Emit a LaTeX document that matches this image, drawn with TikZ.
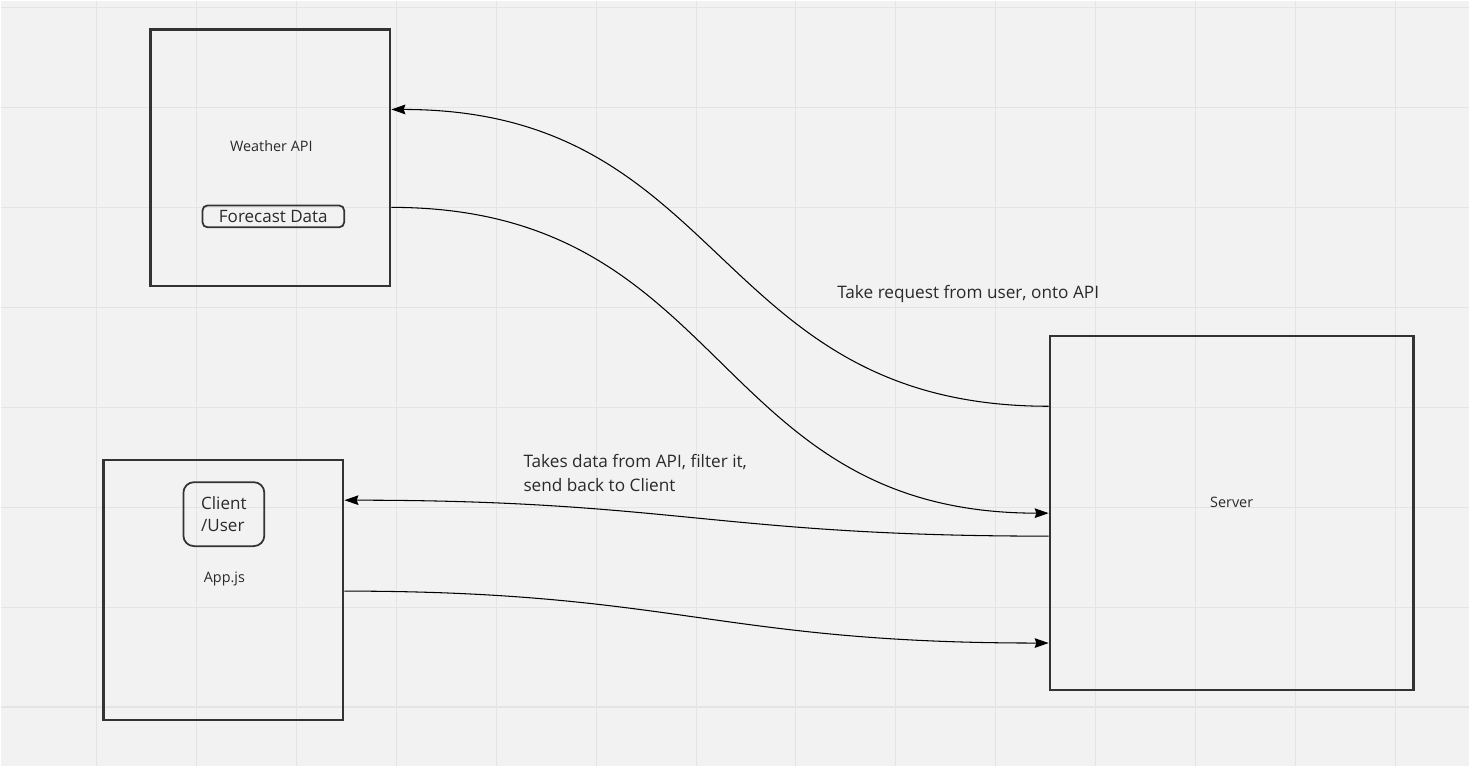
\documentclass[tikz,border=0pt]{standalone}
\usepackage{fontspec}
\setmainfont{Open Sans}
\usetikzlibrary{arrows.meta}
\definecolor{paper}{HTML}{F2F2F2}
\definecolor{gridline}{HTML}{E4E4E4}
\definecolor{ink}{HTML}{333333}
\definecolor{txt}{HTML}{2A2A2A}

\tikzset{
  box/.style={draw=ink, line width=1.3pt, inner sep=0pt},
  tag/.style={draw=ink, line width=1pt, rounded corners=3pt, inner sep=0pt},
  small/.style={text=txt, font=\fontsize{8.2}{10}\selectfont, inner sep=0pt},
  note/.style={text=txt, font=\fontsize{9.8}{13.6}\selectfont, inner sep=0pt, align=left},
  link/.style={draw=black, line width=0.6pt, -{Stealth[length=8pt,width=5.5pt,inset=1pt]}},
}

\begin{document}
\begin{tikzpicture}[x=0.02cm,y=-0.02cm]
        % --- Background ---
        \fill[paper] (0,0) rectangle (1470,766);
        \foreach \x in {96,196,...,1396}
            \draw[gridline, line width=0.6pt] (\x,0) -- (\x,766);
        \foreach \y in {7,107,...,707}
            \draw[gridline, line width=0.6pt] (0,\y) -- (1470,\y);
        \useasboundingbox (0,0) rectangle (1470,766);

        % --- Weather API ---
        \node[box, minimum width=4.8cm, minimum height=5.14cm] (weather) at (270,157.5) {};
        \node[small] (weathertext) at (271,146) {Weather API};
        \node[tag, text=txt, font=\fontsize{9.7}{11}\selectfont, minimum width=2.84cm, minimum height=0.44cm] (forecast) at (273,216) {Forecast Data\hspace{0.15cm}};

        % --- App.js ---
        \node[box, minimum width=4.8cm, minimum height=5.2cm] (app) at (223,590) {};
        \node[tag, rounded corners=6pt, text=txt, align=left, font=\fontsize{9.7}{13}\selectfont, minimum width=1.62cm, minimum height=1.28cm] (client) at (223.5,514) {Client\\/User};
        \node[small] (apptext) at (224,579) {App.js};

        % --- Server ---
        \node[box, minimum width=7.28cm, minimum height=7.08cm] (server) at (1232,513) {};
        \node[small] (servertext) at (1232,502) {Server};

        % --- Connectors ---
        \draw[link] ([yshift=2.14cm]server.west) to[out=180,in=0,looseness=1.2] ([yshift=0.97cm]weather.east);
        \draw[link] ([yshift=-0.99cm]weather.east) to[out=0,in=180,looseness=1.2] (server.west);
        \draw[link] ([yshift=-0.46cm]server.west) to[out=180,in=0,looseness=1.2] ([yshift=1.8cm]app.east);
        \draw[link] ([yshift=-0.02cm]app.east) to[out=0,in=180,looseness=1.2] ([yshift=-2.6cm]server.west);

        % --- Labels ---
        \node[note, anchor=west] (request) at (837,294) {Take request from user, onto API};
        \node[note, anchor=west] (reply) at (523,473) {Takes data from API, filter it,\\send back to Client};
\end{tikzpicture}
\end{document}
